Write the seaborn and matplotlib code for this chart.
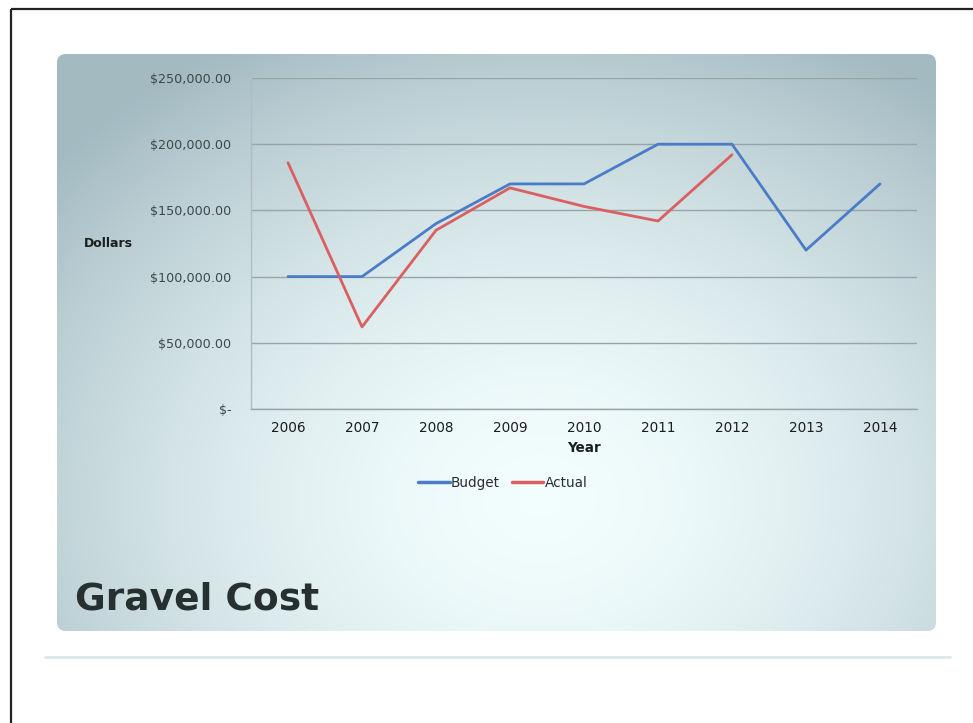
import numpy as np
import pandas as pd
import matplotlib
matplotlib.use("Agg")
import matplotlib.pyplot as plt
from matplotlib.patches import FancyBboxPatch
from matplotlib.ticker import FixedLocator, FuncFormatter
import seaborn as sns

# ---- data ----
years = [2006, 2007, 2008, 2009, 2010, 2011, 2012, 2013, 2014]
budget = [100000, 100000, 140000, 170000, 170000, 200000, 200000, 120000, 170000]
actual = [186000, 62000, 135000, 167000, 153000, 142000, 192000, np.nan, np.nan]
series_names = ["Budget", "Actual"]
series_colors = ["#4a7cc8", "#dc5f60"]
y_ticks = [0, 50000, 100000, 150000, 200000, 250000]
title = "Gravel Cost"

df = pd.DataFrame({
    "Year": years * 2,
    "Dollars": budget + actual,
    "Series": [series_names[0]] * len(years) + [series_names[1]] * len(years),
})

sns.set_theme(style="white")
plt.rcParams["font.family"] = ["DejaVu Sans"]

W, H = 973, 723
fig = plt.figure(figsize=(W / 100, H / 100), dpi=100)
fig.patch.set_facecolor("white")

# ---- slide background: frame, gradient panel, underline ----
bg = fig.add_axes([0, 0, 1, 1], zorder=0)
bg.set_xlim(0, W)
bg.set_ylim(H, 0)
bg.axis("off")

bg.plot([11, 11], [9, H], color="#222222", lw=1.6, solid_capstyle="butt")
bg.plot([11, W], [9, 9], color="#222222", lw=1.6, solid_capstyle="butt")

px0, py0, px1, py1 = 57, 54, 936, 631
gx = np.linspace(px0, px1, 300)
gy = np.linspace(py0, py1, 200)
GX, GY = np.meshgrid(gx, gy)
cx, cy = 540, 500
d = np.sqrt(((GX - cx) / 640) ** 2 + ((GY - cy) / 520) ** 2)
d = np.clip(d, 0, 1)
light = np.array([0.95, 0.995, 0.995])
dark = np.array([0.64, 0.73, 0.76])
t = d ** 1.7
img = light[None, None, :] * (1 - t[..., None]) + dark[None, None, :] * t[..., None]
panel = FancyBboxPatch((px0, py0), px1 - px0, py1 - py0,
                       boxstyle="round,pad=0,rounding_size=9",
                       transform=bg.transData, facecolor="none", edgecolor="none")
bg.add_patch(panel)
im = bg.imshow(img, extent=(px0, px1, py1, py0), aspect="auto", interpolation="bilinear")
im.set_clip_path(panel)

bg.plot([45, 950], [657, 657], color="#d3e2e2", lw=2.0, alpha=0.8)

bg.text(75, 600, title, fontsize=27, fontweight="bold", color="#263030",
        ha="left", va="center")

# ---- chart ----
left, right = 251 / W, 917 / W
bottom, top = (H - 409) / H, (H - 78) / H
ax = fig.add_axes([left, bottom, right - left, top - bottom], zorder=2)
ax.patch.set_alpha(0)

sns.lineplot(data=df, x="Year", y="Dollars", hue="Series",
             palette=dict(zip(series_names, series_colors)),
             linewidth=2.0, ax=ax, legend=False)

ax.set_xlim(years[0] - 0.5, years[-1] + 0.5)
ax.set_ylim(0, y_ticks[-1])
ax.yaxis.set_major_locator(FixedLocator(y_ticks))
ax.yaxis.set_major_formatter(FuncFormatter(
    lambda v, p: "$-" if v == 0 else f"${v:,.2f}"))
ax.set_xticks(years)
ax.set_xticklabels([str(y) for y in years])

ax.grid(axis="y", color="#98a4a6", lw=1.0)
ax.grid(axis="x", visible=False)
for s in ["top", "right"]:
    ax.spines[s].set_visible(False)
ax.spines["left"].set_color("#b0bcbe")
ax.spines["left"].set_linewidth(1.0)
ax.spines["bottom"].set_color("#98a4a6")
ax.spines["bottom"].set_linewidth(1.0)

ax.tick_params(axis="y", length=0, pad=14, labelsize=9.2, labelcolor="#3e4849")
ax.tick_params(axis="x", length=0, pad=9, labelsize=9.8, labelcolor="#1a1e1e")
ax.set_xticks([y + 0.5 for y in years[:-1]], minor=True)
ax.tick_params(axis="x", which="minor", length=3, direction="inout",
               color="#98a4a6", width=1)

ax.set_xlabel("Year", fontsize=9.8, fontweight="bold", color="#1a1e1e", labelpad=4)
ax.set_ylabel("Dollars", fontsize=9, fontweight="bold", color="#1a1e1e",
              rotation=0, ha="center", va="center")
ax.yaxis.set_label_coords((108 - 251) / (917 - 251), 0.5)

handles = [plt.Line2D([], [], color=c, lw=2.5) for c in series_colors]
leg = fig.legend(handles, series_names, loc="center",
                 bbox_to_anchor=(503 / W, (H - 483) / H), ncol=2, frameon=False,
                 fontsize=9.8, handlelength=2.3, handletextpad=0.1, columnspacing=0.9)
for txt in leg.get_texts():
    txt.set_color("#2a2e2e")

fig.savefig("out.png", dpi=100)
